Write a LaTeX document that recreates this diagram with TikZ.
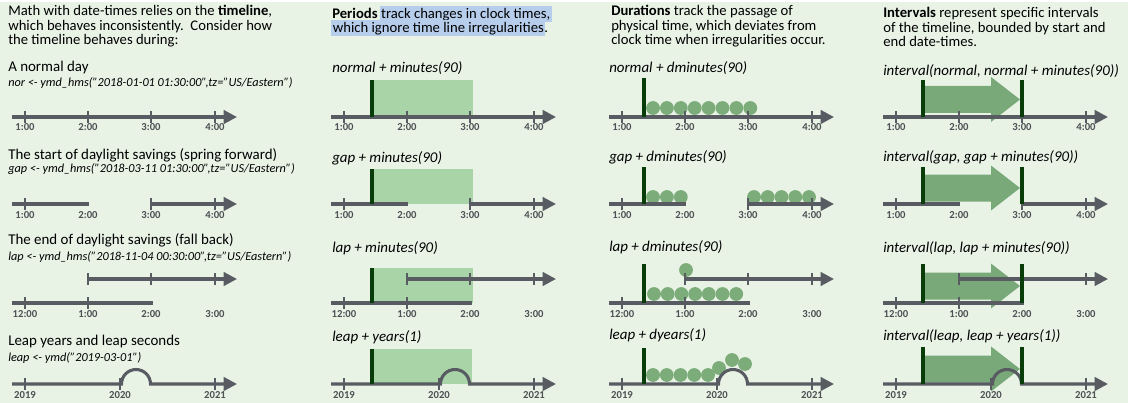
\documentclass[tikz,border=0pt]{standalone}
\usepackage{fontspec}
\setmainfont{Carlito}
\usepackage{xcolor}
\usepackage{tikz}
\usetikzlibrary{positioning}
\usetikzlibrary{arrows.meta}
\definecolor{bgGreen}{RGB}{232,243,230}
\definecolor{lineGray}{RGB}{88,91,97}
\definecolor{labelGray}{RGB}{78,80,84}
\definecolor{periodGreen}{RGB}{168,212,168}
\definecolor{barGreen}{RGB}{8,60,8}
\definecolor{dotGreen}{RGB}{124,172,121}
\definecolor{ivGreen}{RGB}{121,168,121}
\definecolor{selBlue}{RGB}{182,206,236}
\tikzset{
    hdr/.style = {align=left, inner sep=0pt, font=\fontsize{11}{10.9}\selectfont},
    casetitle/.style = {anchor=west, inner sep=0pt, font=\fontsize{11.2}{12}\selectfont},
    code/.style = {anchor=west, inner sep=0pt, font=\fontsize{9.2}{10}\selectfont\itshape},
    expr/.style = {anchor=west, inner sep=0pt, font=\fontsize{11.2}{12}\selectfont\itshape},
    tlab/.style = {inner sep=0pt, text=labelGray, font=\fontsize{8}{9}\selectfont\bfseries},
    tline/.style = {draw=lineGray, line width=2.3pt},
    tend/.style = {-{Triangle[length=10pt,width=10pt]}},
    tick/.style = {draw=lineGray, line width=1.6pt},
    period/.style = {fill=periodGreen},
    bar/.style = {draw=barGreen, line width=3pt},
    dot/.style = {fill=dotGreen},
    ivarrow/.style = {fill=ivGreen},
    sel/.style = {fill=selBlue, inner xsep=1.2pt, inner ysep=0.6pt, text height=8.6pt, text depth=2.2pt}
}
\begin{document}
\begin{tikzpicture}[x=0.75pt, y=-0.75pt]
\useasboundingbox (0,0) rectangle (1136,403);
\fill[bgGreen] (0,2) rectangle (1128,403);
%
% column 1: the timeline
\node[hdr, anchor=north west] (intro) at (8,5) {Math with date-times relies on the \textbf{timeline},\\which behaves inconsistently.\ \ Consider how\\the timeline behaves during:};
\node[casetitle] (normT) at (8,68) {A normal day};
\node[code] (normC) at (8,83) {nor <- ymd\_hms("2018-01-01 01:30:00",tz="US/Eastern")};
\node[casetitle] (gapT) at (8,155) {The start of daylight savings (spring forward)};
\node[code] (gapC) at (8,169) {gap <- ymd\_hms("2018-03-11 01:30:00",tz="US/Eastern")};
\node[casetitle] (lapT) at (8,240) {The end of daylight savings (fall back)};
\node[code] (lapC) at (8,257) {lap <- ymd\_hms("2018-11-04 00:30:00",tz="US/Eastern")};
\node[casetitle] (leapT) at (8,342) {Leap years and leap seconds};
\node[code] (leapC) at (8,358) {leap <- ymd("2019-03-01")};
%
% column 2: periods
\node[hdr, anchor=base west] (perHead) at (332,18.5) {\textbf{Periods}};
\node[hdr, sel, base right=1pt of perHead] (perSel) {track changes in clock times,};
\node[hdr, sel, anchor=base west] (perSelB) at (331,32.5) {which ignore time line irregularities};
\node[hdr, base right=-1.2pt of perSelB] (perStop) {.};
\node[expr] (perNorm) at (332,68) {normal + minutes(90)};
\node[expr] (perGap) at (332,158) {gap + minutes(90)};
\node[expr] (perLap) at (332,248) {lap + minutes(90)};
\node[expr] (perLeap) at (332,337) {leap + years(1)};
\fill[period] (372,80) rectangle (473,117);
\fill[period] (372,169) rectangle (473,204);
\fill[period] (372,268) rectangle (473,303);
\fill[period] (372,349) rectangle (472,384);
%
% column 3: durations
\node[hdr, anchor=north west] (durHead) at (611,5) {\textbf{Durations} track the passage of\\physical time, which deviates from\\clock time when irregularities occur.};
\node[expr] (durNorm) at (609,68) {normal + dminutes(90)};
\node[expr] (durGap) at (609,157) {gap + dminutes(90)};
\node[expr] (durLap) at (609,247) {lap + dminutes(90)};
\node[expr] (durLeap) at (609,335) {leap + dyears(1)};
\foreach \k in {0,...,7} \fill[dot] ({653+13.9*\k},108) circle[radius=6.9];
\foreach \k in {0,1,2} \fill[dot] ({653+13.9*\k},197) circle[radius=6.9];
\foreach \k in {0,...,4} \fill[dot] ({754+13.75*\k},197) circle[radius=6.9];
\foreach \k in {0,...,6} \fill[dot] ({654+13.7*\k},294) circle[radius=6.9];
\fill[dot] (686,270) circle[radius=6.9];
\foreach \k in {0,...,4} \fill[dot] ({653+13.75*\k},375) circle[radius=6.9];
\fill[dot] (719,368) circle[radius=6.9];
\fill[dot] (732,360) circle[radius=6.9];
\fill[dot] (745,364) circle[radius=6.9];
%
% column 4: intervals
\node[hdr, anchor=north west] (intHead) at (883,7) {\textbf{Intervals} represent specific intervals\\of the timeline, bounded by start and\\end date-times.};
\node[expr] (intNorm) at (883,71) {interval(normal, normal + minutes(90))};
\node[expr] (intGap) at (883,157) {interval(gap, gap + minutes(90))};
\node[expr] (intLap) at (883,248) {interval(lap, lap + minutes(90))};
\node[expr] (intLeap) at (883,336) {interval(leap, leap + years(1))};
\foreach \y in {99.5,188,286,369}
  \fill[ivarrow] (923,{\y-13.5}) -- (991,{\y-13.5}) -- (991,{\y-22.5}) -- (1020,\y)
    -- (991,{\y+22.5}) -- (991,{\y+13.5}) -- (923,{\y+13.5}) -- cycle;
%
% the four timelines, once per column
\foreach \c/\n in {0/A,319/B,597/C,871/D}{
\begin{scope}[xshift=\c*0.75pt]
  % normal day
  \draw[tline,tend] (12,117) -- (237,117);
  \foreach \x in {25,88,151,215} \draw[tick] (\x,111) -- (\x,123);
  \foreach \x/\t [count=\i] in {25/1:00,88/2:00,151/3:00,215/4:00}
    \node[tlab] (\n-nor-\i) at (\x,127.5) {\t};
  % spring forward
  \draw[tline] (12,204) -- (89,204);
  \draw[tline,tend] (151,204) -- (237,204);
  \foreach \x in {25,151,215} \draw[tick] (\x,198) -- (\x,210);
  \foreach \x/\t [count=\i] in {25/1:00,88/2:00,151/3:00,215/4:00}
    \node[tlab] (\n-gap-\i) at (\x,215.5) {\t};
  % fall back
  \draw[tline,tend] (88,279) -- (237,279);
  \foreach \x in {88,151,215} \draw[tick] (\x,273) -- (\x,285);
  \draw[tline] (12,303) -- (153,303);
  \foreach \x in {25,88} \draw[tick] (\x,297) -- (\x,309);
  \foreach \x/\t [count=\i] in {25/12:00,88/1:00,151/2:00,215/3:00}
    \node[tlab] (\n-lap-\i) at (\x,314.5) {\t};
  % leap year
  \draw[tline,tend] (12,384) -- (121.5,384) arc[start angle=180, end angle=360, radius=14.5] -- (237,384);
  \foreach \x in {25,120,215} \draw[tick] (\x,378) -- (\x,390);
  \foreach \x/\t [count=\i] in {25/2019,120/2020,215/2021}
    \node[tlab] (\n-leap-\i) at (\x,395.5) {\t};
\end{scope}
}
%
% start and end marks
\draw[bar] (372,80) -- (372,117);
\draw[bar] (372,169) -- (372,204);
\draw[bar] (372,268) -- (372,303);
\draw[bar] (372,349) -- (372,384);
\draw[bar] (644,78) -- (644,117);
\draw[bar] (644,167) -- (644,204);
\draw[bar] (644,264) -- (644,303);
\draw[bar] (644,348) -- (644,384);
\draw[bar] (923,80) -- (923,117);
\draw[bar] (1022,80) -- (1022,117);
\draw[bar] (923,167) -- (923,204);
\draw[bar] (1022,167) -- (1022,204);
\draw[bar] (923,264) -- (923,303);
\draw[bar] (1022,264) -- (1022,303);
\draw[bar] (923,347) -- (923,384);
\draw[bar] (1022,347) -- (1022,384);
\end{tikzpicture}
\end{document}
